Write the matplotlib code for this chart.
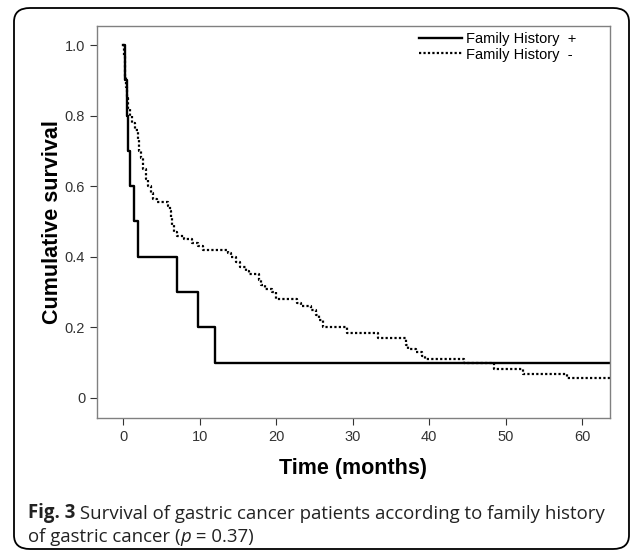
import numpy as np
import matplotlib
matplotlib.use("Agg")
import matplotlib.pyplot as plt
from matplotlib.patches import FancyBboxPatch

# Kaplan-Meier steps (time in months, survival after the event)
fh_pos_time = [0.0, 0.3, 0.5, 0.7, 0.9, 1.45, 2.0, 7.0, 9.8, 12.0]
fh_pos_surv = [1.0, 0.9, 0.8, 0.7, 0.6, 0.5, 0.4, 0.3, 0.2, 0.1]

fh_neg_time = [0.0, 0.1, 0.2, 0.3, 0.4, 0.5, 0.7, 0.9, 1.2, 1.6, 1.9, 2.1, 2.4,
               2.6, 3.0, 3.3, 3.6, 3.9, 4.4, 5.9, 6.1, 6.3, 6.4, 6.7, 7.0, 8.0,
               9.0, 9.8, 10.5, 13.7, 14.1, 14.7, 15.3, 16.0, 16.4, 17.8, 18.0,
               18.5, 19.5, 20.0, 22.7, 23.3, 24.6, 25.2, 25.6, 26.1, 29.2, 33.3,
               36.9, 37.2, 38.3, 39.0, 39.5, 44.5, 48.4, 52.3, 58.0]
fh_neg_surv = [1.0, 0.97, 0.94, 0.91, 0.88, 0.85, 0.82, 0.80, 0.78, 0.76, 0.73,
               0.70, 0.68, 0.65, 0.62, 0.60, 0.58, 0.565, 0.555, 0.545, 0.53,
               0.51, 0.49, 0.47, 0.46, 0.45, 0.44, 0.43, 0.42, 0.41, 0.40, 0.385,
               0.372, 0.36, 0.35, 0.335, 0.32, 0.31, 0.30, 0.28, 0.27, 0.26, 0.25,
               0.235, 0.22, 0.20, 0.185, 0.17, 0.15, 0.14, 0.13, 0.12, 0.11,
               0.098, 0.083, 0.068, 0.055]

end_time = 63.6
x_ticks = [0, 10, 20, 30, 40, 50, 60]
y_ticks = [0, 0.2, 0.4, 0.6, 0.8, 1.0]
y_ticklabels = ['0', '0.2', '0.4', '0.6', '0.8', '1.0']

plt.rcParams['font.family'] = ['Liberation Sans', 'DejaVu Sans']

fig = plt.figure(figsize=(6.36, 5.53), dpi=100)
ax = fig.add_axes([0.1525, 0.2441, 0.8065, 0.7089])

# rounded border around the whole figure
border = FancyBboxPatch((14 / 636, 1 - 549 / 553), 615 / 636, 541 / 553,
                        boxstyle="round,pad=0,rounding_size=0.025",
                        transform=fig.transFigure, fill=False,
                        edgecolor='black', linewidth=1.3)
fig.patches.append(border)

ax.step(fh_pos_time + [end_time], fh_pos_surv + [fh_pos_surv[-1]], where='post',
        color='black', linewidth=1.7, label='Family History  +')
ax.step(fh_neg_time + [end_time], fh_neg_surv + [fh_neg_surv[-1]], where='post',
        color='black', linewidth=1.6, linestyle=(0, (1, 1)),
        label='Family History  -')

ax.set_xlim(-3.4, 63.6)
ax.set_ylim(-0.057, 1.054)
ax.set_xticks(x_ticks)
ax.set_yticks(y_ticks)
ax.set_yticklabels(y_ticklabels)
ax.tick_params(labelsize=10.5, length=5, color='#333333', labelcolor='#333333')

for sp in ax.spines.values():
    sp.set_color('#808080')
    sp.set_linewidth(1.0)

ax.set_xlabel('Time (months)', fontsize=15.5, fontweight='bold', labelpad=10)
ax.set_ylabel('Cumulative survival', fontsize=15.5, fontweight='bold', labelpad=1)

ax.legend(loc='upper right', bbox_to_anchor=(0.96, 1.018), frameon=False,
          fontsize=10.5, handlelength=2.9, handletextpad=0.3, labelspacing=0.1)

# caption, pieces chained one after another
cap = dict(fontsize=13.4, family='Open Sans', color='#222222')
t1 = fig.text(28 / 636, 1 - 518 / 553, 'Fig. 3', fontweight='bold',
              va='baseline', **cap)
ax.annotate(' Survival of gastric cancer patients according to family history',
            xy=(1, 0), xycoords=t1, va='bottom', annotation_clip=False, **cap)
t2 = fig.text(28 / 636, 1 - 542 / 553, 'of gastric cancer (', va='baseline', **cap)
t3 = ax.annotate('p', xy=(1, 0), xycoords=t2, style='italic', va='bottom',
                 annotation_clip=False, **cap)
ax.annotate(' = 0.37)', xy=(1, 0), xycoords=t3, va='bottom',
            annotation_clip=False, **cap)

fig.savefig('out.png', dpi=100)
